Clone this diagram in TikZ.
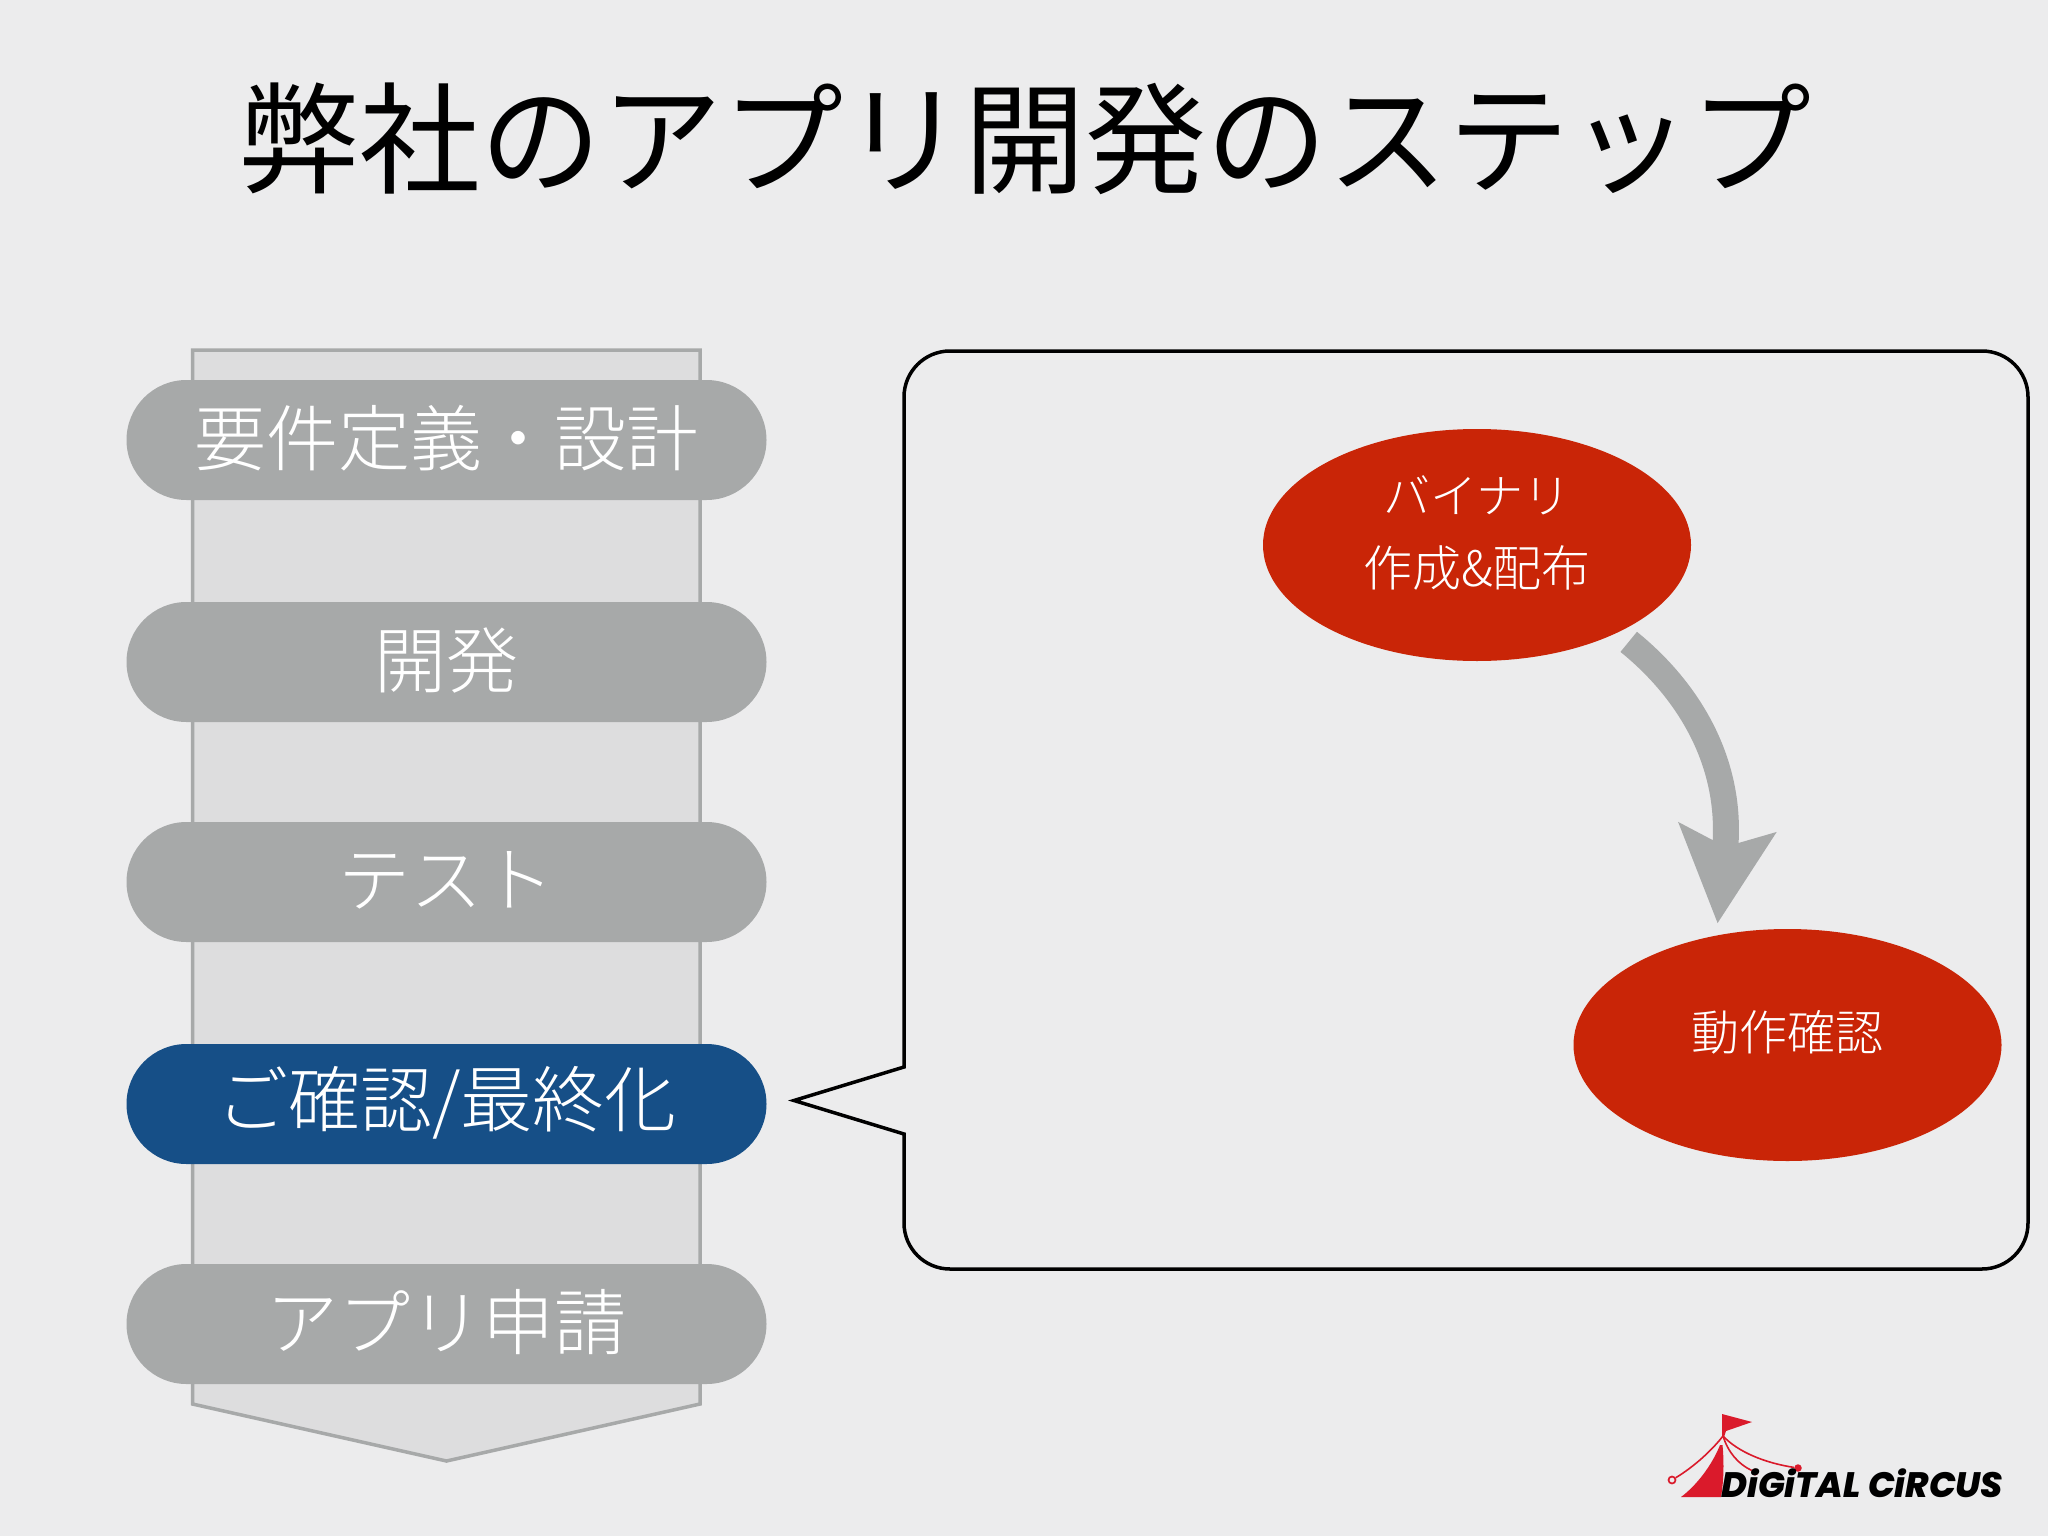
\documentclass[tikz,border=0pt]{standalone}
\usepackage{fontspec}
\usetikzlibrary{arrows.meta,shapes.geometric}
\newfontfamily\jpr{Noto Sans CJK JP}
\newfontfamily\jpl{Noto Sans CJK JP Light}
\newfontfamily\logofont{Poppins ExtraBold}
\newcommand{\upby}[2]{\raisebox{#1}[\height][\depth]{#2}}
\definecolor{bgc}{HTML}{ECECED}
\definecolor{colfill}{HTML}{DDDDDE}
\definecolor{greyc}{HTML}{A7A9A9}
\definecolor{bluec}{HTML}{164F87}
\definecolor{redc}{HTML}{C92507}
\definecolor{logored}{HTML}{DA1A2B}
\tikzset{
  pill/.style={rectangle,rounded corners=60pt,minimum width=640pt,minimum height=120pt,inner sep=0pt,fill=greyc,text=white,font=\jpl\fontsize{72}{80}\selectfont},
  oval/.style={ellipse,minimum width=428pt,minimum height=232pt,inner sep=0pt,fill=redc,text=white,align=center,font=\jpl\fontsize{48}{73}\selectfont},
  flow/.style={-{Stealth[length=95pt,width=95pt,inset=18pt]},line width=26pt,draw=greyc}
}
\begin{document}
\begin{tikzpicture}[x=1pt,y=-1pt]
\useasboundingbox (0,0) rectangle (2048,1536);
\fill[bgc] (0,0) rectangle (2048,1536);
\node[font=\jpr\fontsize{121}{130}\selectfont,text=black,inner sep=0pt] (title) at (1025,139) {弊社のアプリ開発のステップ};
\draw[greyc,fill=colfill,line width=3.5pt,line join=miter] (192.5,350) -- (700,350) -- (700,1404) -- (446.5,1461) -- (192.5,1404) -- cycle;
\node[pill] (s1) at (446.5,440) {\upby{2pt}{要件定義・設計}};
\node[pill] (s2) at (446.5,662) {\upby{2pt}{開発}};
\node[pill] (s3) at (446.5,882) {\upby{2pt}{テスト}};
\node[pill,fill=bluec] (s4) at (446.5,1104) {\upby{1pt}{ご確認/最終化}};
\node[pill] (s5) at (446.5,1324) {\upby{2pt}{アプリ申請}};
\draw[black,line width=3.5pt,line join=miter,fill=bgc]
  (794,1100.5) -- (904,1067) [rounded corners=46pt] -- (904,351) -- (2028,351) -- (2028,1269) -- (904,1269) [sharp corners] -- (904,1134) -- cycle;
\node[oval] (bin) at (1477,545) {\upby{12pt}{\fontsize{47}{73}\selectfont バイナリ}\\\upby{12pt}{\fontsize{49}{73}\selectfont 作成\&配布}};
\node[oval] (chk) at (1787.5,1045) {\upby{13pt}{動作確認}};
\draw[flow,shorten <=14.5pt,shorten >=12pt] (bin.-32) .. controls (1687,689) and (1734,762) .. (chk.123.6);
% logo
\fill[logored] (1722,1414) -- (1752,1422) -- (1726,1431) -- (1724,1437) -- (1722,1437) -- cycle;
\fill[logored] (1720,1445) .. controls (1712,1465) and (1697,1485) .. (1681,1497) -- (1721,1497) .. controls (1724,1480) and (1724,1460) .. (1722.5,1445) -- cycle;
\node[circle,draw=logored,line width=1.7pt,minimum size=7pt,inner sep=0pt] (lg1) at (1672,1480) {};
\node[circle,fill=logored,minimum size=7pt,inner sep=0pt] (lg2) at (1755,1472) {};
\node[circle,fill=logored,minimum size=7.5pt,inner sep=0pt] (lg3) at (1798,1468) {};
\coordinate (apex) at (1723,1436);
\draw[logored,line width=1.6pt] (apex) .. controls (1712,1450) and (1695,1466) .. (lg1);
\draw[logored,line width=1.6pt] (apex) .. controls (1728,1452) and (1738,1464) .. (lg2);
\draw[logored,line width=1.6pt] (apex) .. controls (1738,1452) and (1765,1463) .. (lg3);
\node[anchor=west,inner sep=0pt,text=black] (logo) at (1721,1483.5) {\resizebox{282pt}{!}{\logofont\itshape DiGiTAL CiRCUS}};
\end{tikzpicture}
\end{document}
